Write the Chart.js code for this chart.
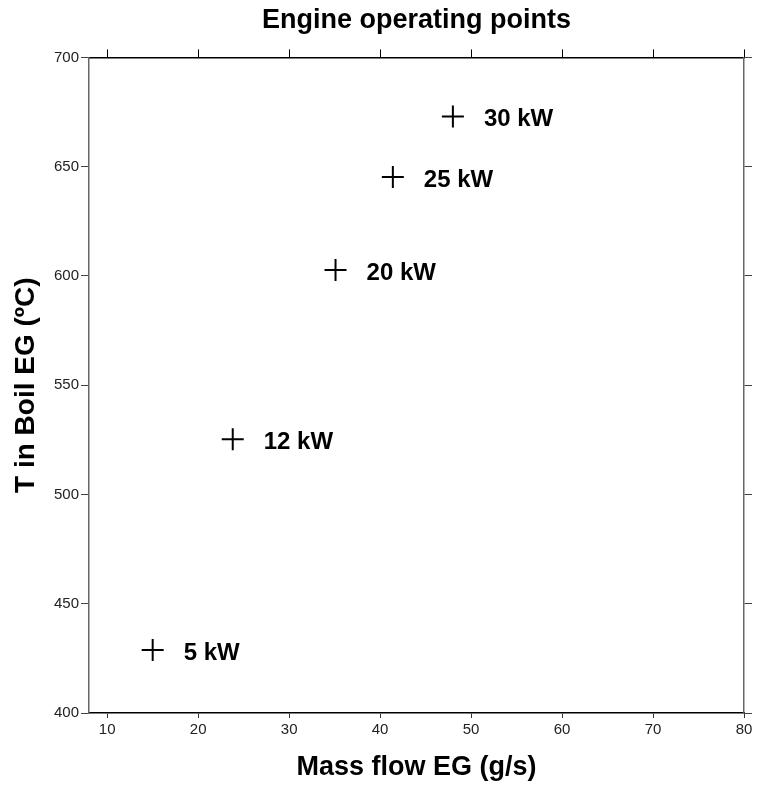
<!DOCTYPE html>
<html>
<head>
<meta charset="utf-8">
<title>Engine operating points</title>
<script src="https://cdn.jsdelivr.net/npm/chart.js"></script>
<style>
    body { margin: 0; background: #fff; }
    #wrap { width: 757px; height: 787px; }
</style>
</head>
<body>
<div id="wrap"><canvas id="myChart" width="757" height="787"></canvas></div>
<script>
// operating points
const powerLabels = ['5 kW', '12 kW', '20 kW', '25 kW', '30 kW'];
const massFlow = [15.0, 23.8, 35.1, 41.4, 48.0];
const tempIn = [428.8, 525.3, 602.7, 645.3, 672.9];

const xTicks = [10, 20, 30, 40, 50, 60, 70, 80];
const yTicks = [400, 450, 500, 550, 600, 650, 700];

const fontFamily = '"Liberation Sans", Arial, sans-serif';

const points = [];
for (let i = 0; i < massFlow.length; i++) {
    points.push({ x: massFlow[i], y: tempIn[i] });
}

// draw the "xx kW" text next to each marker
const pointLabels = {
    id: 'pointLabels',
    afterDatasetsDraw(chart) {
        const ctx = chart.ctx;
        const meta = chart.getDatasetMeta(0);
        ctx.save();
        ctx.font = 'bold 24px ' + fontFamily;
        ctx.fillStyle = '#000';
        ctx.textAlign = 'left';
        ctx.textBaseline = 'middle';
        meta.data.forEach(function (pt, i) {
            ctx.fillText(powerLabels[i], pt.x + 31, pt.y + 3);
        });
        ctx.restore();
    }
};

function setTicks(list) {
    return function (scale) {
        scale.ticks = list.map(v => ({ value: v }));
    };
}

// fixed box sizes so the plot area lands where the original one is
function fitSize(key, size) {
    return function (scale) {
        scale[key] = size;
        scale.paddingLeft = 0;
        scale.paddingRight = 0;
        scale.paddingTop = 0;
        scale.paddingBottom = 0;
    };
}

const ctx = document.getElementById('myChart').getContext('2d');
new Chart(ctx, {
    type: 'scatter',
    data: {
        datasets: [{
            data: points,
            showLine: false,
            pointStyle: 'cross',
            pointRadius: 11,
            pointHoverRadius: 11,
            pointBorderWidth: 2,
            pointBorderColor: '#000',
            pointBackgroundColor: '#000',
        }]
    },
    options: {
        responsive: false,
        animation: false,
        devicePixelRatio: 1,
        layout: { padding: 0 },
        plugins: {
            legend: { display: false },
            tooltip: { enabled: false },
            title: {
                display: true,
                text: 'Engine operating points',
                fullSize: false,
                color: '#000',
                font: { family: fontFamily, size: 27, weight: 'bold' },
                padding: { top: 4, bottom: 0 }
            }
        },
        scales: {
            x: {
                type: 'linear',
                position: 'bottom',
                min: 8,
                max: 80,
                afterBuildTicks: setTicks(xTicks),
                afterFit: fitSize('height', 74),
                grid: { drawOnChartArea: false, drawTicks: true, tickLength: 5, color: '#333' },
                border: { display: true, color: '#000', width: 1.5 },
                ticks: { autoSkip: false, maxRotation: 0, padding: 3, color: '#222', font: { family: fontFamily, size: 15 } },
                title: {
                    display: true,
                    text: 'Mass flow EG (g/s)',
                    color: '#000',
                    font: { family: fontFamily, size: 27, weight: 'bold' },
                    padding: { top: 0, bottom: 3 }
                }
            },
            x2: {
                type: 'linear',
                axis: 'x',
                position: 'top',
                min: 8,
                max: 80,
                afterBuildTicks: setTicks(xTicks),
                afterFit: fitSize('height', 21),
                grid: { drawOnChartArea: false, drawTicks: true, tickLength: 8, color: '#000' },
                border: { display: true, color: '#000', width: 1.5 },
                ticks: { display: false }
            },
            y: {
                type: 'linear',
                position: 'left',
                min: 400,
                max: 700,
                afterBuildTicks: setTicks(yTicks),
                afterFit: fitSize('width', 89),
                grid: { drawOnChartArea: false, drawTicks: true, tickLength: 8, color: '#444' },
                border: { display: true, color: '#666', width: 1.5 },
                ticks: { autoSkip: false, padding: 2, color: '#222', font: { family: fontFamily, size: 15 } },
                title: {
                    display: true,
                    text: 'T in Boil EG (ºC)',
                    color: '#000',
                    font: { family: fontFamily, size: 28, weight: 'bold' },
                    padding: { top: 9, bottom: 0 }
                }
            },
            y2: {
                type: 'linear',
                axis: 'y',
                position: 'right',
                min: 400,
                max: 700,
                afterBuildTicks: setTicks(yTicks),
                afterFit: fitSize('width', 9),
                grid: { drawOnChartArea: false, drawTicks: true, tickLength: 8, color: '#444' },
                border: { display: true, color: '#666', width: 1.5 },
                ticks: { display: false }
            }
        }
    },
    plugins: [pointLabels]
});
</script>
</body>
</html>
